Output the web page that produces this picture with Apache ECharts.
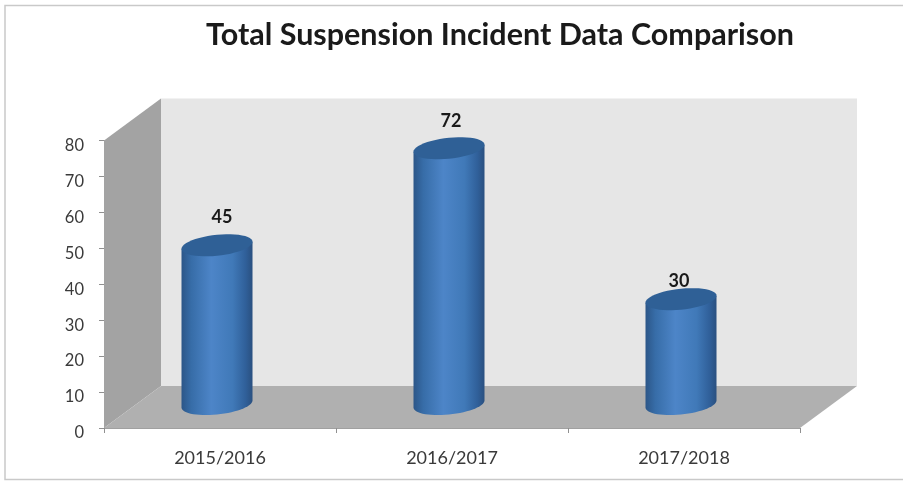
<!DOCTYPE html>
<html>
<head>
<meta charset="utf-8">
<style>html,body{margin:0;padding:0;background:#fff}#c{width:903px;height:481px;filter:blur(0.7px)}</style>
<script src="https://cdn.jsdelivr.net/npm/echarts@6/dist/echarts.min.js"></script>
</head>
<body>
<div id="c"></div>
<script>
var categories = ['2015/2016', '2016/2017', '2017/2018'];
var incidents = [45, 72, 30];
var valueTicks = [0, 80, 10];

var font = 'Lato, "Open Sans", sans-serif';
var depthX = 57, depthY = 42;          // wall perspective
var barShiftX = -3, barShiftTop = -21, barShiftBase = -24;
var barRx = 35.5, barRy = 10.5, barTilt = 3.5;
var labelNudge = [[5, -28], [2, -27], [-2, -18]];

function ellipsePts(cx, cy, from, to, n) {
  var out = [];
  for (var i = 0; i <= n; i++) {
    var t = from + (to - from) * i / n;
    out.push([cx + barRx * Math.cos(t), cy + barRy * Math.sin(t) - barTilt * Math.cos(t)]);
  }
  return out;
}

var chart = echarts.init(document.getElementById('c'), null, {renderer: 'canvas'});
chart.setOption({
  animation: false,
  backgroundColor: '#fff',
  title: {
    text: 'Total Suspension Incident Data Comparison',
    left: 495, top: 15, textAlign: 'center',
    textStyle: {fontFamily: font, fontWeight: 'bold', fontSize: 30.5, color: '#1a1a1a'}
  },
  graphic: [{
    type: 'rect', z: 0, silent: true,
    shape: {x: 5, y: 5.5, width: 900, height: 474},
    style: {fill: 'none', stroke: '#c9c9c9', lineWidth: 1.5}
  }],
  grid: {left: 104, right: 103, top: 140.5, bottom: 53},
  xAxis: {
    type: 'category', data: categories,
    axisLine: {lineStyle: {color: '#a0a0a0'}},
    axisTick: {show: true, length: 5, lineStyle: {color: '#909090'}},
    axisLabel: {fontFamily: font, fontSize: 18, color: '#3a3a3a', margin: 21}
  },
  yAxis: {
    type: 'value', min: valueTicks[0], max: valueTicks[1], interval: valueTicks[2],
    axisLine: {show: true, lineStyle: {color: '#a0a0a0'}},
    axisTick: {show: true, length: 5, lineStyle: {color: '#909090'}},
    splitLine: {show: false},
    axisLabel: {fontFamily: font, fontSize: 16.5, color: '#3a3a3a', margin: 20, lineHeight: 16, align: 'right', verticalAlign: 'top', padding: [-3, 0, 0, 0]}
  },
  series: [{
    type: 'custom', z: 1, silent: true, clip: false, data: [0],
    renderItem: function (params, api) {
      var cs = params.coordSys;
      var l = cs.x, r = cs.x + cs.width, t = cs.y, b = cs.y + cs.height;
      return {type: 'group', children: [
        {type: 'rect', shape: {x: l + depthX, y: t - depthY, width: cs.width, height: cs.height},
          style: {fill: '#e6e6e6'}},
        {type: 'polygon', shape: {points: [[l, t], [l + depthX, t - depthY], [l + depthX, b - depthY], [l, b]]},
          style: {fill: '#a3a3a3'}},
        {type: 'polygon', shape: {points: [[l, b], [l + depthX, b - depthY], [r + depthX, b - depthY], [r, b]]},
          style: {fill: '#b0b0b0'}}
      ]};
    }
  }, {
    type: 'custom', z: 3, silent: true, clip: false,
    data: incidents.map(function (v, i) { return [i, v]; }),
    encode: {x: 0, y: 1},
    renderItem: function (params, api) {
      var i = api.value(0), v = api.value(1);
      var top = api.coord([i, v]), base = api.coord([i, 0]);
      var cx = top[0] + barShiftX, ty = top[1] + barShiftTop, by = base[1] + barShiftBase;
      var side = new echarts.graphic.LinearGradient(0, 0, 1, 0, [
        {offset: 0, color: '#2c5688'}, {offset: 0.14, color: '#376da8'},
        {offset: 0.42, color: '#4d85c8'}, {offset: 0.72, color: '#4079b8'},
        {offset: 0.9, color: '#30609a'}, {offset: 1, color: '#2a5080'}
      ]);
      var lower = ellipsePts(cx, by, 0, Math.PI, 30);
      var body = [[cx - barRx, ty + barTilt]].concat([[cx + barRx, ty - barTilt]], lower);
      var cap = ellipsePts(cx, ty, 0, Math.PI * 2, 48);
      var nudge = labelNudge[i];
      return {type: 'group', children: [
        {type: 'polygon', shape: {points: body}, style: {fill: side}},
        {type: 'polygon', shape: {points: cap}, style: {fill: '#2f6096'}},
        {type: 'text', x: cx + nudge[0], y: ty + nudge[1], style: {
          text: String(v), fontFamily: font, fontWeight: 'bold', fontSize: 18,
          fill: '#1a1a1a', align: 'center', verticalAlign: 'middle'
        }}
      ]};
    }
  }]
});
</script>
</body>
</html>
